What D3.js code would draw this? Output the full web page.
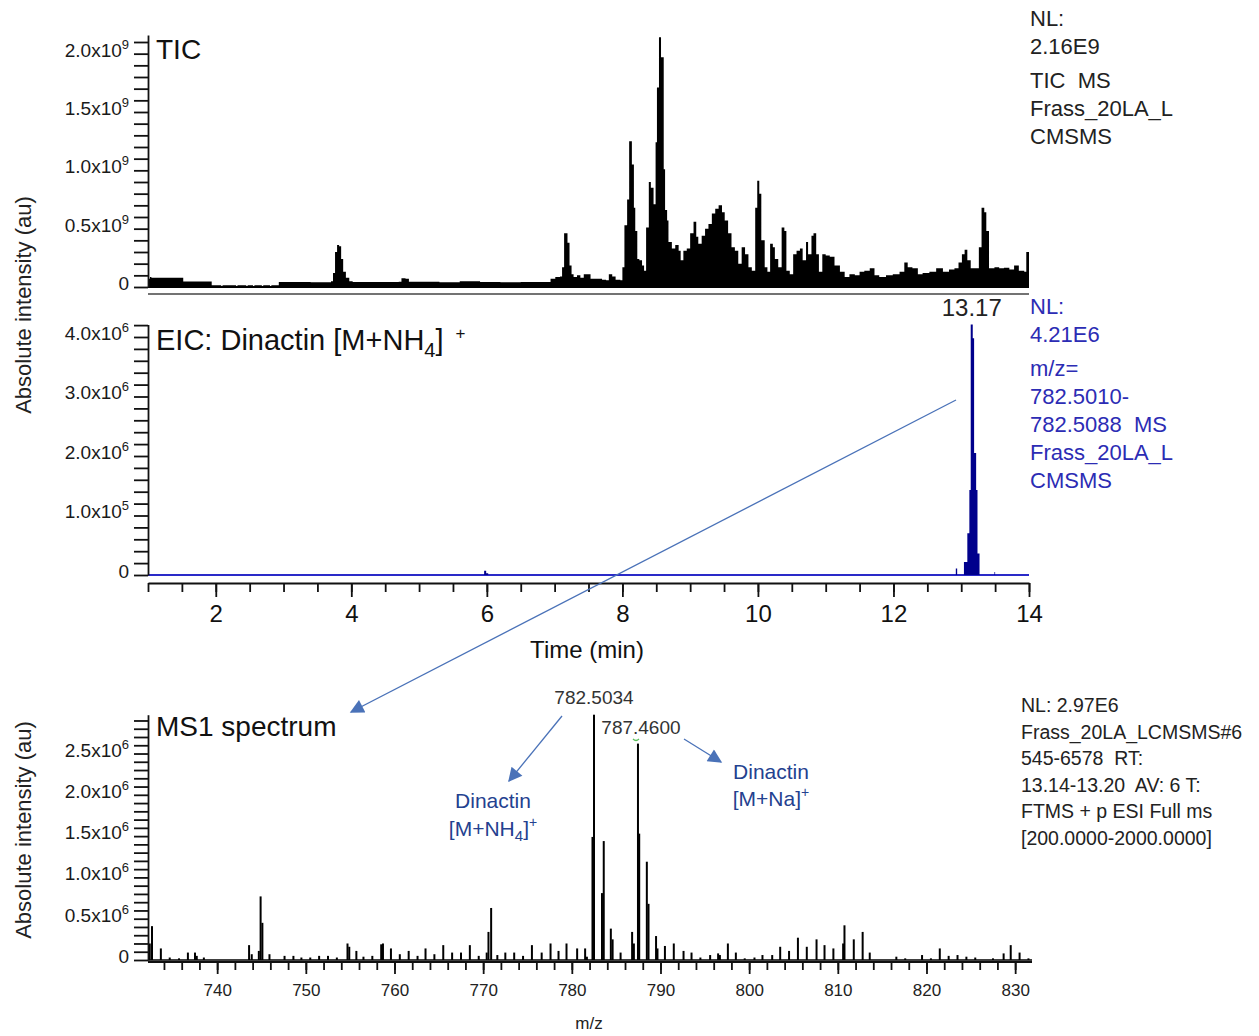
<!DOCTYPE html>
<html>
<head>
<meta charset="utf-8">
<script src="https://cdn.jsdelivr.net/npm/d3@7"></script>
<style>
  body { margin: 0; background: #fff; }
  svg { display: block; font-family: "Liberation Sans", Arial, sans-serif; }
</style>
</head>
<body>
<svg id="chart" width="1259" height="1036"></svg>
<script>
// TIC trace: retention time (min) and intensity (x1e9)
const ticTime = [1.00, 1.03, 1.05, 1.25, 1.52, 1.94, 2.08, 2.10, 2.30, 2.32, 2.45, 2.47, 2.55, 2.57, 2.68, 2.70, 2.80, 2.82,
  2.93, 3.40, 3.70, 3.73, 3.76, 3.79, 3.82, 3.85, 3.88, 3.92, 3.97, 4.02, 4.70, 4.74, 4.80, 4.85, 5.30, 5.60, 5.90, 6.20,
  6.50, 6.94, 7.01, 7.08, 7.11, 7.14, 7.19, 7.22, 7.25, 7.28, 7.33, 7.38, 7.43, 7.48, 7.53, 7.63, 7.70, 7.76, 7.80, 7.85,
  7.90, 7.97, 8.00, 8.03, 8.07, 8.10, 8.14, 8.17, 8.19, 8.22, 8.25, 8.29, 8.32, 8.35, 8.39, 8.42, 8.46, 8.49, 8.51, 8.54,
  8.57, 8.61, 8.63, 8.66, 8.68, 8.73, 8.78, 8.83, 8.86, 8.90, 8.95, 9.00, 9.05, 9.09, 9.12, 9.17, 9.22, 9.27, 9.32, 9.37,
  9.42, 9.47, 9.51, 9.56, 9.61, 9.66, 9.71, 9.76, 9.81, 9.86, 9.91, 9.96, 9.99, 10.02, 10.05, 10.10, 10.14, 10.18, 10.22,
  10.25, 10.30, 10.35, 10.39, 10.42, 10.47, 10.52, 10.57, 10.62, 10.66, 10.71, 10.74, 10.79, 10.82, 10.86, 10.90, 10.95,
  11.00, 11.06, 11.13, 11.21, 11.28, 11.35, 11.43, 11.50, 11.57, 11.65, 11.72, 11.79, 11.89, 11.99, 12.09, 12.16, 12.21,
  12.28, 12.36, 12.43, 12.53, 12.63, 12.73, 12.82, 12.90, 12.96, 13.01, 13.05, 13.09, 13.14, 13.22, 13.26, 13.30, 13.34,
  13.37, 13.41, 13.49, 13.56, 13.63, 13.71, 13.78, 13.85, 13.93, 13.96, 13.99, 14.00];
const ticValue = [0.07, 0.085, 0.08, 0.08, 0.048, 0.014, 0, 0.014, 0, 0.014, 0, 0.014, 0, 0.014, 0, 0.014, 0, 0.014,
  0.043, 0.04, 0.05, 0.12, 0.30, 0.36, 0.35, 0.24, 0.13, 0.08, 0.05, 0.043, 0.045, 0.075, 0.07, 0.045, 0.04, 0.05, 0.042, 0.04,
  0.043, 0.07, 0.085, 0.09, 0.17, 0.46, 0.38, 0.185, 0.11, 0.085, 0.10, 0.08, 0.11, 0.11, 0.07, 0.07, 0.063, 0.057, 0.11, 0.09,
  0.063, 0.057, 0.17, 0.53, 0.75, 1.25, 1.05, 0.68, 0.48, 0.24, 0.23, 0.185, 0.14, 0.51, 0.90, 0.85, 0.71, 1.24, 1.71, 2.14,
  1.97, 1.01, 0.66, 0.57, 0.385, 0.33, 0.36, 0.31, 0.23, 0.31, 0.33, 0.46, 0.56, 0.43, 0.37, 0.44, 0.50, 0.54, 0.63, 0.67,
  0.70, 0.64, 0.57, 0.46, 0.34, 0.31, 0.20, 0.34, 0.28, 0.17, 0.14, 0.68, 0.91, 0.80, 0.40, 0.17, 0.13, 0.37, 0.34,
  0.24, 0.17, 0.51, 0.48, 0.14, 0.11, 0.28, 0.31, 0.33, 0.23, 0.385, 0.28, 0.44, 0.46, 0.28, 0.13, 0.28,
  0.27, 0.26, 0.185, 0.13, 0.085, 0.11, 0.10, 0.13, 0.14, 0.16, 0.10, 0.085, 0.10, 0.11, 0.13, 0.21, 0.17,
  0.16, 0.11, 0.12, 0.13, 0.16, 0.13, 0.15, 0.16, 0.21, 0.28, 0.32, 0.23, 0.16, 0.16, 0.34, 0.68, 0.64,
  0.48, 0.16, 0.17, 0.16, 0.165, 0.15, 0.185, 0.14, 0.13, 0.30, 0.30, 0.30];

// EIC trace for m/z 782.5010-782.5088: time (min) and intensity (x1e6)
const eicTime = [1.00, 5.93, 5.96, 5.99, 6.02, 12.90, 12.92, 12.94, 13.04, 13.09, 13.12, 13.14, 13.17, 13.19, 13.22,
  13.24, 13.27, 13.48, 13.49, 13.50, 14.00];
const eicValue = [0, 0, 0.07, 0.03, 0, 0, 0.11, 0, 0.22, 0.70, 1.43, 4.21, 3.98, 2.05, 1.43, 0.36, 0, 0, 0.05, 0, 0];

// MS1 spectrum sticks: m/z and intensity (x1e6)
const msMz = [732.4, 732.65, 733.65, 734.65, 735.7, 736.7, 737.5, 737.7, 738.5, 743.6, 743.9, 744.7, 744.9, 745.1, 745.9,
  747.6, 748.6, 749.5, 750.5, 751.5, 752.5, 753.5, 754.7, 754.9, 755.7, 756.5, 757.5, 758.5, 758.7, 759.6, 760.6, 761.6,
  762.6, 763.5, 764.5, 765.5, 766.5, 767.5, 768.5, 769.5, 770.4, 770.6, 770.9, 771.6, 772.5, 773.5, 774.5, 775.5, 776.6,
  777.6, 778.5, 779.4, 780.6, 781.5, 781.7, 782.33, 782.50, 783.4, 783.6, 784.4, 784.6, 785.5, 786.8, 787.0, 787.46, 787.6,
  788.46, 788.65, 789.5, 789.66, 790.5, 791.5, 792.6, 793.5, 794.5, 795.6, 796.5, 796.7, 797.6, 798.5, 799.5, 800.6, 801.5,
  802.6, 803.5, 804.5, 805.5, 806.5, 807.6, 808.5, 809.5, 810.6, 810.75, 811.8, 812.8, 813.6, 816.6, 817.6, 819.5, 820.5,
  821.5, 822.5, 823.5, 824.5, 825.5, 827.5, 828.7, 829.5, 830.5, 831.5];
const msValue = [0.20, 0.41, 0.14, 0.03, 0.02, 0.09, 0.09, 0.05, 0.03, 0.18, 0.07, 0.11, 0.77, 0.45, 0.07,
  0.05, 0.05, 0.03, 0.03, 0.05, 0.05, 0.03, 0.20, 0.16, 0.11, 0.04, 0.05, 0.19, 0.20, 0.14, 0.07, 0.11,
  0.05, 0.14, 0.07, 0.18, 0.09, 0.09, 0.18, 0.05, 0.09, 0.34, 0.63, 0.06, 0.09, 0.09, 0.05, 0.18, 0.09,
  0.20, 0.11, 0.20, 0.14, 0.14, 0.04, 1.49, 2.97, 0.81, 1.44, 0.38, 0.25, 0.09, 0.34, 0.20, 2.62, 1.53,
  1.19, 0.68, 0.29, 0.14, 0.17, 0.20, 0.11, 0.09, 0.03, 0.06, 0.08, 0.06, 0.20, 0.09, 0.02, 0.03, 0.06,
  0.06, 0.16, 0.11, 0.27, 0.16, 0.25, 0.18, 0.14, 0.20, 0.42, 0.25, 0.34, 0.09, 0.04, 0.02, 0.06, 0.02,
  0.14, 0.05, 0.06, 0.04, 0.03, 0.02, 0.08, 0.18, 0.09, 0.02];

// tick values and labels
const timeTicks = [2, 4, 6, 8, 10, 12, 14];
const mzTicks = [740, 750, 760, 770, 780, 790, 800, 810, 820, 830];
const ticYTicks = [0, 0.5, 1.0, 1.5, 2.0];
const ticYLabels = ["0", "0.5x10", "1.0x10", "1.5x10", "2.0x10"];
const ticYExp = ["", "9", "9", "9", "9"];
const eicYTicks = [0, 1, 2, 3, 4];
const eicYLabels = ["0", "1.0x10", "2.0x10", "3.0x10", "4.0x10"];
const eicYExp = ["", "5", "6", "6", "6"];
const msYTicks = [0, 0.5, 1.0, 1.5, 2.0, 2.5];
const msYLabels = ["0", "0.5x10", "1.0x10", "1.5x10", "2.0x10", "2.5x10"];
const msYExp = ["", "6", "6", "6", "6", "6"];

const ticInfo = ["NL:", "2.16E9", "TIC  MS", "Frass_20LA_L", "CMSMS"];
const eicInfo = ["NL:", "4.21E6", "m/z=", "782.5010-", "782.5088  MS", "Frass_20LA_L", "CMSMS"];
const msInfo = ["NL: 2.97E6", "Frass_20LA_LCMSMS#6", "545-6578  RT:", "13.14-13.20  AV: 6 T:", "FTMS + p ESI Full ms", "[200.0000-2000.0000]"];

const svg = d3.select("#chart");
svg.append("rect").attr("width", 1259).attr("height", 1036).attr("fill", "#fff");

const arrowBlue = "#4a72b8";
const noteBlue = "#24418f";
const infoBlue = "#2c2cb4";

// scales
const x = d3.scaleLinear().domain([1, 14]).range([148, 1029]);
const yTic = d3.scaleLinear().domain([0, 2.16]).range([287, 35]);
const yEic = d3.scaleLinear().domain([0, 4.21]).range([575, 324.5]);
const xMs = d3.scaleLinear().domain([732.2, 831.9]).range([148, 1032]);
const yMs = d3.scaleLinear().domain([0, 2.97]).range([960, 714.7]);

function yAxis(scale, step, max, values, labels, exps) {
    const g = svg.append("g").attr("transform", "translate(148,0)");
    g.call(d3.axisLeft(scale).tickValues(d3.range(0, max + 1e-6, step)).tickSize(14).tickSizeOuter(0).tickFormat(""));
    g.selectAll("line, path").attr("stroke", "#111").attr("stroke-width", 1.8);
    values.forEach((v, i) => {
        const t = svg.append("text")
            .attr("x", 129).attr("y", scale(v) + 3)
            .attr("text-anchor", "end").attr("font-size", 19).attr("fill", "#1a1a1a");
        t.append("tspan").text(labels[i]);
        if (exps[i]) t.append("tspan").attr("dy", -8).attr("font-size", 13).text(exps[i]);
    });
}

// ---------- TIC ----------
const ticData = ticTime.map((t, i) => ({t: t, v: ticValue[i]}));
svg.append("path")
    .datum(ticData)
    .attr("fill", "#000")
    .attr("d", d3.area().curve(d3.curveStepAfter).x(d => x(d.t)).y0(yTic(0)).y1(d => yTic(d.v)));
svg.append("line").attr("x1", x(1)).attr("x2", x(14)).attr("y1", yTic(0)).attr("y2", yTic(0))
    .attr("stroke", "#000").attr("stroke-width", 2);
svg.append("line").attr("x1", x(1)).attr("x2", x(14)).attr("y1", 294).attr("y2", 294)
    .attr("stroke", "#444").attr("stroke-width", 1.6);
yAxis(yTic, 0.1, 2.1, ticYTicks, ticYLabels, ticYExp);
svg.append("text").attr("x", 156).attr("y", 59).attr("font-size", 28).attr("fill", "#111").text("TIC");

svg.append("g").selectAll("text").data(ticInfo).join("text")
    .attr("x", 1030).attr("y", (d, i) => [26, 54, 88, 116, 144][i])
    .attr("font-size", 22).attr("fill", "#222").attr("xml:space", "preserve").text(d => d);

// ---------- EIC ----------
const eicData = eicTime.map((t, i) => ({t: t, v: eicValue[i]}));
svg.append("line").attr("x1", x(1)).attr("x2", x(14)).attr("y1", yEic(0)).attr("y2", yEic(0))
    .attr("stroke", "#2a2ac8").attr("stroke-width", 2.2);
svg.append("path")
    .datum(eicData)
    .attr("fill", "#00008c")
    .attr("d", d3.area().curve(d3.curveStepAfter).x(d => x(d.t)).y0(yEic(0)).y1(d => yEic(d.v)));
yAxis(yEic, 0.2, 4.2, eicYTicks, eicYLabels, eicYExp);

const eicTitle = svg.append("text").attr("x", 156).attr("y", 350).attr("font-size", 29).attr("fill", "#111");
eicTitle.append("tspan").text("EIC: Dinactin [M+NH");
eicTitle.append("tspan").attr("dy", 7).attr("font-size", 20).text("4");
eicTitle.append("tspan").attr("dy", -7).text("]");
eicTitle.append("tspan").attr("dy", -11).attr("dx", 12).attr("font-size", 17).text("+");

svg.append("text").attr("x", x(13.17) - 1).attr("y", 316).attr("text-anchor", "middle")
    .attr("font-size", 24).attr("fill", "#222").text("13.17");

svg.append("g").selectAll("text").data(eicInfo).join("text")
    .attr("x", 1030).attr("y", (d, i) => [314, 342, 376, 404, 432, 460, 488][i])
    .attr("font-size", 22).attr("fill", infoBlue).attr("xml:space", "preserve").text(d => d);

// time axis
const tAxisY = 583;
const tMinor = svg.append("g").attr("transform", `translate(0,${tAxisY})`)
    .call(d3.axisBottom(x).tickValues(d3.range(1, 14.01, 0.5)).tickSize(9).tickSizeOuter(0).tickFormat(""));
tMinor.selectAll("line, path").attr("stroke", "#111").attr("stroke-width", 1.8);
const tMajor = svg.append("g").attr("transform", `translate(0,${tAxisY})`)
    .call(d3.axisBottom(x).tickValues(timeTicks).tickSize(14).tickPadding(8).tickSizeOuter(0).tickFormat(d3.format("d")));
tMajor.select(".domain").remove();
tMajor.selectAll("line").attr("stroke", "#111").attr("stroke-width", 1.8);
tMajor.selectAll("text").attr("font-size", 24).attr("fill", "#111").attr("font-family", "Liberation Sans, Arial, sans-serif");
svg.append("text").attr("x", 587).attr("y", 658).attr("text-anchor", "middle")
    .attr("font-size", 24).attr("fill", "#111").text("Time (min)");

// ---------- MS1 ----------
const msData = msMz.map((m, i) => ({mz: m, v: msValue[i]}));
svg.append("g").selectAll("line").data(msData).join("line")
    .attr("x1", d => xMs(d.mz)).attr("x2", d => xMs(d.mz))
    .attr("y1", yMs(0)).attr("y2", d => yMs(d.v))
    .attr("stroke", "#000").attr("stroke-width", 2);
svg.append("line").attr("x1", 148).attr("x2", 1032).attr("y1", yMs(0)).attr("y2", yMs(0))
    .attr("stroke", "#000").attr("stroke-width", 1.6);
yAxis(yMs, 0.1, 2.9, msYTicks, msYLabels, msYExp);

const mAxisY = 962;
const mMinor = svg.append("g").attr("transform", `translate(0,${mAxisY})`)
    .call(d3.axisBottom(xMs).tickValues(d3.range(734, 832, 2)).tickSize(8).tickSizeOuter(0).tickFormat(""));
mMinor.selectAll("line, path").attr("stroke", "#111").attr("stroke-width", 1.8);
mMinor.select(".domain").attr("d", "M148,0H1032");
const mMajor = svg.append("g").attr("transform", `translate(0,${mAxisY})`)
    .call(d3.axisBottom(xMs).tickValues(mzTicks).tickSize(12).tickPadding(10).tickSizeOuter(0).tickFormat(d3.format("d")));
mMajor.select(".domain").remove();
mMajor.selectAll("line").attr("stroke", "#111").attr("stroke-width", 1.8);
mMajor.selectAll("text").attr("font-size", 17).attr("fill", "#222").attr("font-family", "Liberation Sans, Arial, sans-serif");
svg.append("text").attr("x", 589).attr("y", 1029).attr("text-anchor", "middle")
    .attr("font-size", 17).attr("fill", "#222").text("m/z");

svg.append("text").attr("x", 156).attr("y", 736).attr("font-size", 28).attr("fill", "#111").text("MS1 spectrum");

svg.append("text").attr("x", xMs(782.50)).attr("y", 704).attr("text-anchor", "middle")
    .attr("font-size", 19).attr("fill", "#333").text("782.5034");
svg.append("text").attr("x", xMs(787.46) + 3).attr("y", 734).attr("text-anchor", "middle")
    .attr("font-size", 19).attr("fill", "#333").text("787.4600");
svg.append("path").attr("d", "M633,739 q3,3 6,0").attr("fill", "none").attr("stroke", "#5bbf5b").attr("stroke-width", 1.2);

svg.append("g").selectAll("text").data(msInfo).join("text")
    .attr("x", 1021).attr("y", (d, i) => 712 + i * 26.5)
    .attr("font-size", 19.5).attr("fill", "#222").attr("xml:space", "preserve").text(d => d);

// y-axis titles
[305, 830].forEach(cy => {
    svg.append("text").attr("transform", `translate(31,${cy}) rotate(-90)`)
        .attr("text-anchor", "middle").attr("font-size", 22).attr("fill", "#222")
        .text("Absolute intensity (au)");
});

// annotations with arrows
svg.append("defs").append("marker")
    .attr("id", "head").attr("viewBox", "0 0 10 10").attr("refX", 9).attr("refY", 5)
    .attr("markerUnits", "userSpaceOnUse").attr("markerWidth", 16).attr("markerHeight", 14)
    .attr("orient", "auto")
    .append("path").attr("d", "M0,0L10,5L0,10Z").attr("fill", arrowBlue);

const arrows = [
    [956, 400, 351, 712],
    [562, 716, 509, 781],
    [684, 739, 721, 762]
];
svg.append("g").selectAll("line").data(arrows).join("line")
    .attr("x1", d => d[0]).attr("y1", d => d[1]).attr("x2", d => d[2]).attr("y2", d => d[3])
    .attr("stroke", arrowBlue).attr("stroke-width", 1.3).attr("marker-end", "url(#head)");

svg.append("text").attr("x", 493).attr("y", 808).attr("text-anchor", "middle")
    .attr("font-size", 21).attr("fill", noteBlue).text("Dinactin");
const nh4 = svg.append("text").attr("x", 493).attr("y", 836).attr("text-anchor", "middle")
    .attr("font-size", 21).attr("fill", noteBlue);
nh4.append("tspan").text("[M+NH");
nh4.append("tspan").attr("dy", 5).attr("font-size", 15).text("4");
nh4.append("tspan").attr("dy", -5).text("]");
nh4.append("tspan").attr("dy", -9).attr("font-size", 14).text("+");

svg.append("text").attr("x", 771).attr("y", 779).attr("text-anchor", "middle")
    .attr("font-size", 21).attr("fill", noteBlue).text("Dinactin");
const na = svg.append("text").attr("x", 771).attr("y", 806).attr("text-anchor", "middle")
    .attr("font-size", 21).attr("fill", noteBlue);
na.append("tspan").text("[M+Na]");
na.append("tspan").attr("dy", -9).attr("font-size", 14).text("+");
</script>
</body>
</html>
